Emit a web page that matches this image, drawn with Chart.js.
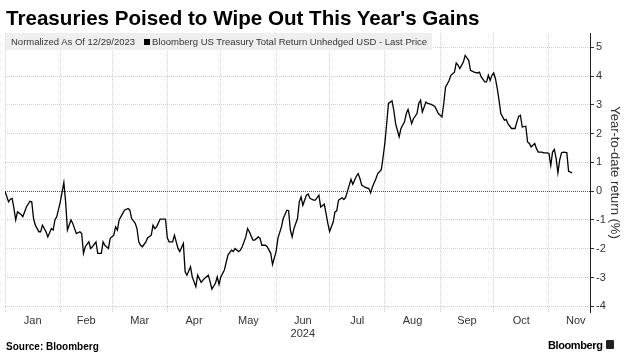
<!DOCTYPE html>
<html><head><meta charset="utf-8">
<script src="https://cdn.jsdelivr.net/npm/chart.js@4.4.1/dist/chart.umd.min.js"></script>
<style>
html,body{margin:0;padding:0;background:#fff;}
#wrap{position:relative;width:631px;height:359px;overflow:hidden;font-family:"Liberation Sans",Arial,sans-serif;}
#c{position:absolute;left:0;top:0;}
#title{position:absolute;left:6px;top:6px;font-size:20.6px;font-weight:bold;color:#000;white-space:nowrap;line-height:24px;}
#legend{position:absolute;left:6px;top:33px;width:426px;height:17px;background:#efefef;font-size:9.5px;color:#333;line-height:17px;white-space:nowrap;padding-left:5px;box-sizing:border-box;overflow:hidden;}
#legend .sq{display:inline-block;width:6px;height:6px;background:#000;margin:0 2px 0 9px;vertical-align:0px;}
#source{position:absolute;left:6px;top:340px;font-size:10px;font-weight:bold;color:#000;white-space:nowrap;line-height:13px;}
#logo{position:absolute;left:548px;top:337px;font-size:11px;letter-spacing:-0.4px;font-weight:bold;color:#000;white-space:nowrap;line-height:16px;}
#icon{position:absolute;left:606px;top:340px;width:8px;height:9px;background:#222;border-radius:1px;}
</style>
</head><body>
<div id="wrap">
<canvas id="c" width="631" height="359"></canvas>
<div id="title">Treasuries Poised to Wipe Out This Year's Gains</div>
<div id="legend">Normalized As Of 12/29/2023<span class="sq"></span>Bloomberg US Treasury Total Return Unhedged USD - Last Price</div>
<div id="source">Source: Bloomberg</div>
<div id="logo">Bloomberg</div>
<div id="icon"></div>
</div>
<script>
// days since 2024-01-01 (trading days)
const days = [0,2,3,4,5,6,7,9,10,12,14,15,16,17,19,20,21,23,24,26,27,28,29,31,33,34,35,37,38,39,40,42,43,44,45,47,48,49,51,52,54,55,56,58,59,61,62,63,64,66,67,69,70,71,73,74,75,76,77,79,80,82,83,84,85,87,88,90,91,92,94,95,97,98,100,101,102,104,105,107,108,110,111,112,114,115,116,118,119,120,121,123,125,127,128,129,131,132,133,135,136,137,139,140,142,143,144,146,147,149,150,152,153,155,156,158,159,160,161,162,164,165,166,167,169,170,171,173,174,176,177,179,180,181,182,184,185,186,187,189,190,191,193,194,195,197,198,199,200,202,204,205,206,208,209,211,212,213,214,215,217,218,219,220,221,222,224,225,226,228,229,231,232,233,234,236,237,239,241,243,245,246,247,249,250,252,253,254,255,257,258,260,261,263,265,266,267,269,270,271,272,273,274,275,276,277,278,280,281,282,284,286,287,288,289,290,292,293,294,295,297,298,299,301,302,304,305,306,307,308,309,310,311,312,313,315,316,318];
// year-to-date return (%)
const returns = [0,-0.37,-0.28,-0.25,-0.6,-1.0,-0.72,-0.81,-0.89,-0.55,-0.35,-0.37,-0.95,-1.18,-1.41,-1.41,-1.18,-1.41,-1.59,-1.3,-1.35,-1.0,-0.89,-0.37,0.3,-0.37,-1.35,-1.0,-1.12,-1.3,-1.47,-1.41,-1.47,-2.16,-1.93,-1.76,-1.99,-1.93,-1.76,-2.16,-2.16,-1.76,-1.88,-1.99,-1.64,-1.53,-1.24,-1.35,-1.0,-0.77,-0.66,-0.6,-0.66,-0.95,-1.12,-1.3,-1.76,-1.88,-1.93,-1.76,-1.62,-1.53,-1.18,-1.3,-1.24,-0.97,-0.97,-0.97,-1.62,-1.76,-1.76,-1.53,-1.99,-2.1,-1.82,-2.8,-2.92,-2.63,-2.98,-3.32,-2.92,-3.17,-3.09,-3.03,-2.92,-3.15,-3.4,-3.2,-2.98,-3.24,-2.98,-2.74,-2.22,-2.05,-2.1,-1.99,-2.1,-2.05,-1.93,-1.59,-1.3,-1.41,-1.7,-1.7,-1.59,-1.64,-1.88,-1.88,-1.93,-2.16,-2.55,-2.1,-1.64,-1.24,-0.95,-0.66,-0.68,-1.35,-1.59,-1.3,-0.95,-0.37,-0.2,-0.49,-0.14,-0.1,-0.25,-0.31,-0.31,-0.14,-0.55,-0.45,-0.77,-1.12,-1.4,-1.07,-0.72,-0.68,-0.31,-0.23,-0.29,-0.22,0.21,0.41,0.24,0.52,0.61,0.44,0.21,0.13,0.09,-0.06,0.15,0.44,0.61,0.75,1.19,1.68,2.35,3.05,3.14,2.81,2.35,2.12,1.89,2.18,2.41,2.7,2.84,2.35,2.52,2.7,3.05,3.16,2.75,3.1,3.05,3.02,2.95,2.7,2.58,3.05,3.62,3.85,4.03,4.14,4.46,4.38,4.26,4.49,4.72,4.55,4.2,4.14,4.11,4.14,3.97,3.8,3.8,4.03,3.85,4.03,4.11,3.91,3.57,3.16,2.7,2.47,2.49,2.35,2.18,2.18,2.41,2.6,2.64,2.23,2.26,1.71,1.66,1.54,1.66,1.48,1.36,1.36,1.33,1.33,1.31,0.9,1.36,1.45,1.14,0.64,1.08,1.33,1.36,1.34,0.69,0.64];
const monthNames = ['Jan','Feb','Mar','Apr','May','Jun','Jul','Aug','Sep','Oct','Nov'];
const monthStarts = [0,31,60,91,121,152,182,213,244,274,305,335];
const yearLabel = '2024';
const yTickValues = [-4,-3.5,-3,-2.5,-2,-1.5,-1,-0.5,0,0.5,1,1.5,2,2.5,3,3.5,4,4.5,5];

const FONT = '"Liberation Sans", Arial, sans-serif';
const points = days.map((d,i)=>({x:d, y:returns[i]}));
const mids = monthNames.map((m,i)=>(monthStarts[i]+monthStarts[i+1])/2);
const gridStarts = monthStarts.slice(0, monthNames.length);

new Chart(document.getElementById('c'), {
  type: 'line',
  data: { datasets: [{ data: points, borderColor: '#000', borderWidth: 1.3, pointRadius: 0, tension: 0, fill: false }] },
  options: {
    responsive: false, animation: false, devicePixelRatio: 1,
    layout: { padding: { left: 5, top: 33, right: 0, bottom: 0 } },
    plugins: { legend: { display: false }, tooltip: { enabled: false } },
    scales: {
      x: {
        type: 'linear', min: 0, max: 328,
        afterBuildTicks: s => {
          s.ticks = gridStarts.map(v=>({value:v})).concat(mids.map(v=>({value:v}))).sort((a,b)=>a.value-b.value);
        },
        afterFit: s => { s.height = 47; },
        ticks: {
          autoSkip: false, maxRotation: 0, minRotation: 0, padding: 2, color: '#333',
          font: { size: 11, family: FONT },
          callback: v => {
            const i = mids.indexOf(v);
            if (i < 0) return '';
            return monthNames[i] === 'Jun' ? ['Jun', yearLabel] : monthNames[i];
          }
        },
        grid: {
          drawTicks: false, lineWidth: 1,
          color: c => (c.tick && gridStarts.includes(c.tick.value)) ? '#d2d2d2' : 'rgba(0,0,0,0)'
        },
        border: { display: false, dash: [1, 1] }
      },
      y: {
        position: 'right', min: -4.2, max: 5.5,
        afterBuildTicks: s => { s.ticks = yTickValues.map(v=>({value:v})); },
        afterFit: s => { s.width = 41; },
        ticks: {
          padding: 2, color: '#333', font: { size: 11, family: FONT },
          callback: v => Number.isInteger(v) ? String(v) : ''
        },
        grid: {
          drawTicks: true, tickLength: 4, tickColor: '#333', lineWidth: 1,
          color: c => {
            if (!c.tick) return 'rgba(0,0,0,0)';
            if (c.tick.value === 0) return '#555';
            return Number.isInteger(c.tick.value) ? '#d2d2d2' : 'rgba(0,0,0,0)';
          }
        },
        border: { display: true, color: '#222', width: 1, dash: [1, 1] },
        title: { display: true, text: 'Year-to-date return (%)', color: '#333', font: { size: 13, family: FONT }, padding: { top: 9, bottom: 0 } }
      }
    }
  }
});
</script>
</body></html>
